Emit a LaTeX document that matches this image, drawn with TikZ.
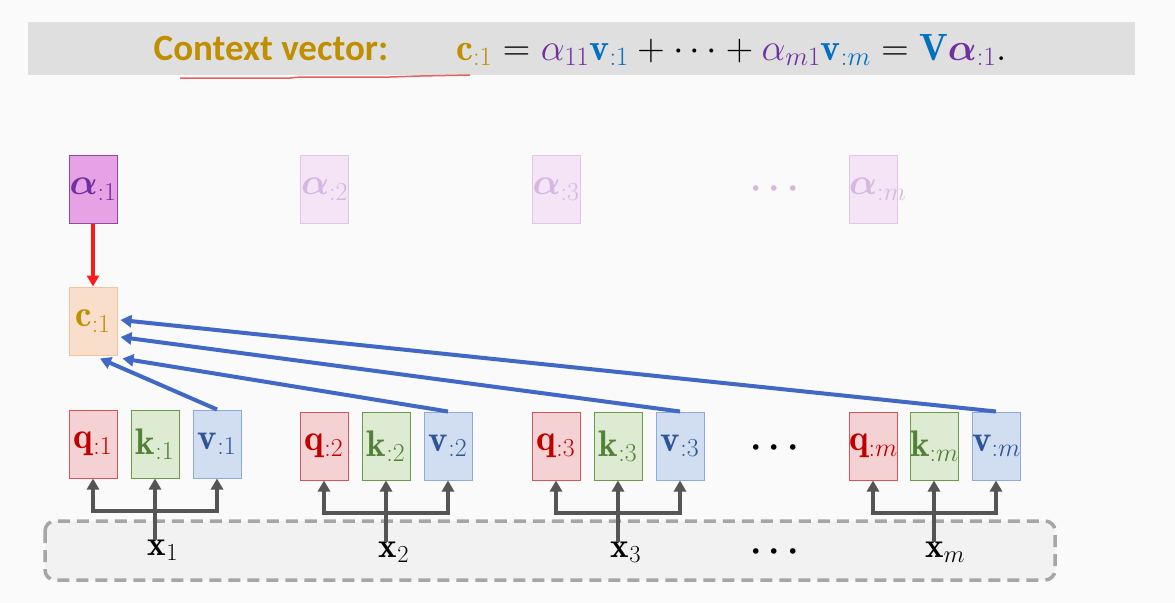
\RequirePackage{fix-cm}
\documentclass[tikz,border=0pt]{standalone}
\usepackage{amsmath,bm}
\usepackage{fontspec}
\newfontfamily\titlefont{Carlito}
\usetikzlibrary{arrows.meta,calc}
\definecolor{bgc}{HTML}{FAFAFA}
\definecolor{bannerc}{HTML}{E0DFE0}
\definecolor{goldc}{HTML}{BF8F00}
\definecolor{purpc}{HTML}{7030A0}
\definecolor{bluec}{HTML}{0070C0}
\definecolor{afill}{HTML}{E7A2E6}
\definecolor{adraw}{HTML}{8B4C9E}
\definecolor{ffill}{HTML}{F5E3F6}
\definecolor{fdraw}{HTML}{E2C6EA}
\definecolor{ftext}{HTML}{D4B8E2}
\definecolor{cfill}{HTML}{F9DFCB}
\definecolor{cdraw}{HTML}{F2C49C}
\definecolor{qfill}{HTML}{F4D2D4}
\definecolor{qdraw}{HTML}{D9545A}
\definecolor{qtext}{HTML}{C00000}
\definecolor{kfill}{HTML}{DDEBD3}
\definecolor{kdraw}{HTML}{6A9A4A}
\definecolor{ktext}{HTML}{538135}
\definecolor{vfill}{HTML}{D1DDF1}
\definecolor{vdraw}{HTML}{8EAADC}
\definecolor{vtext}{HTML}{2F5597}
\definecolor{arrblue}{HTML}{4068C4}
\definecolor{arrred}{HTML}{FF1A1A}
\definecolor{grayc}{HTML}{555555}
\definecolor{dashc}{HTML}{A6A6A6}
\definecolor{dfill}{HTML}{F2F2F2}
\definecolor{ulred}{HTML}{E86060}
\tikzset{
  box/.style={draw, line width=1pt, text width=48pt, align=center, minimum height=68pt, inner sep=0pt, font=\fontsize{37}{42}\selectfont},
  abox/.style={box, fill=afill, draw=adraw, text=purpc},
  fbox/.style={box, fill=ffill, draw=fdraw, text=ftext},
  cbox/.style={box, fill=cfill, draw=cdraw, text=goldc},
  qbox/.style={box, fill=qfill, draw=qdraw, text=qtext},
  kbox/.style={box, fill=kfill, draw=kdraw, text=ktext},
  vbox/.style={box, fill=vfill, draw=vdraw, text=vtext},
  xlab/.style={inner sep=1pt, font=\fontsize{35}{40}\selectfont},
  dotlab/.style={inner sep=0pt, font=\fontsize{36}{42}\selectfont},
  garrow/.style={draw=grayc, line width=4pt, -{Triangle[width=12pt,length=11pt]}},
  barrow/.style={draw=arrblue, line width=4pt, -{Triangle[width=12pt,length=11pt]}},
  rarrow/.style={draw=arrred, line width=4pt, -{Triangle[width=12pt,length=11pt]}},
}
\begin{document}
\begin{tikzpicture}[x=1pt,y=-1pt]
\fill[bgc] (0,0) rectangle (1175,603);
\useasboundingbox (0,0) rectangle (1175,603);
% banner
\fill[bannerc] (28,22) rectangle (1135,75);
\node[font=\titlefont\bfseries\fontsize{37}{42}\selectfont, text=goldc, inner sep=0pt] (title) at (271,49) {Context vector:};
\node[font=\fontsize{38}{42}\selectfont, inner sep=0pt, anchor=west] (formula) at (456,50)
  {$\textcolor{goldc}{\mathbf{c}_{:1}} = \textcolor{purpc}{\alpha_{11}}\textcolor{bluec}{\mathbf{v}_{:1}} + \cdots + \textcolor{purpc}{\alpha_{m1}}\textcolor{bluec}{\mathbf{v}_{:m}} = \textcolor{bluec}{\mathbf{V}}\textcolor{purpc}{\bm{\alpha}_{:1}}.$};
\draw[ulred, line width=1.5pt] (180,78) -- (290,78) -- (300,77) -- (390,77) -- (420,76) -- (470,75);
% dashed input area
\draw[draw=dashc, fill=dfill, line width=3.5pt, dash pattern=on 12pt off 7pt, rounded corners=10pt] (45,521) rectangle (1055,580);
% alpha row
\node[abox] (a1) at (93,189) {$\bm{\alpha}_{:1}$};
\node[fbox] (a2) at (324.5,189) {$\bm{\alpha}_{:2}$};
\node[fbox] (a3) at (556,189) {$\bm{\alpha}_{:3}$};
\node[dotlab, text=ftext] (adots) at (778,189) {$\bm{\cdots}$};
\node[fbox] (am) at (873,189) {$\bm{\alpha}_{:m}$};
% context
\node[cbox] (c1) at (93,321) {$\mathbf{c}_{:1}$};
% q k v
\node[qbox] (q1) at (93,444) {$\mathbf{q}_{:1}$};
\node[kbox] (k1) at (155,444) {$\mathbf{k}_{:1}$};
\node[vbox] (v1) at (217,444) {$\mathbf{v}_{:1}$};
\node[qbox] (q2) at (324,446) {$\mathbf{q}_{:2}$};
\node[kbox] (k2) at (386,446) {$\mathbf{k}_{:2}$};
\node[vbox] (v2) at (448,446) {$\mathbf{v}_{:2}$};
\node[qbox] (q3) at (556,446) {$\mathbf{q}_{:3}$};
\node[kbox] (k3) at (618,446) {$\mathbf{k}_{:3}$};
\node[vbox] (v3) at (680,446) {$\mathbf{v}_{:3}$};
\node[dotlab] (qdots) at (778,448) {$\bm{\cdots}$};
\node[qbox] (qm) at (873,446) {$\mathbf{q}_{:m}$};
\node[kbox] (km) at (934,446) {$\mathbf{k}_{:m}$};
\node[vbox] (vm) at (996,446) {$\mathbf{v}_{:m}$};
% inputs
\node[xlab] (x1) at (163,550) {$\mathbf{x}_1$};
\node[xlab] (x2) at (394,552) {$\mathbf{x}_2$};
\node[xlab] (x3) at (626,552) {$\mathbf{x}_3$};
\node[dotlab] (xdots) at (778,552) {$\bm{\cdots}$};
\node[xlab] (xm) at (945,552) {$\mathbf{x}_m$};
% bars
\coordinate (b1) at (155,511);
\coordinate (b2) at (386,513);
\coordinate (b3) at (618,513);
\coordinate (bm) at (934,513);
\foreach \i in {1,2,3,m}{
  \draw[garrow] ([yshift=-2pt]x\i.north -| k\i.south) -- (k\i.south);
  \draw[garrow] (b\i) -| (q\i.south);
  \draw[garrow] (b\i) -| (v\i.south);
}
% red arrow
\draw[rarrow] (a1.south) -- (c1.north);
% blue arrows
\draw[barrow] (vm.north) -- ([xshift=3pt,yshift=1pt]c1.east);
\draw[barrow] (v3.north) -- ([xshift=3pt,yshift=-16pt]c1.east);
\draw[barrow] (v2.north) -- ([xshift=5pt,yshift=-3pt]c1.south east);
\draw[barrow] (v1.north) -- ([xshift=7pt,yshift=-3pt]c1.south);
\end{tikzpicture}
\end{document}
